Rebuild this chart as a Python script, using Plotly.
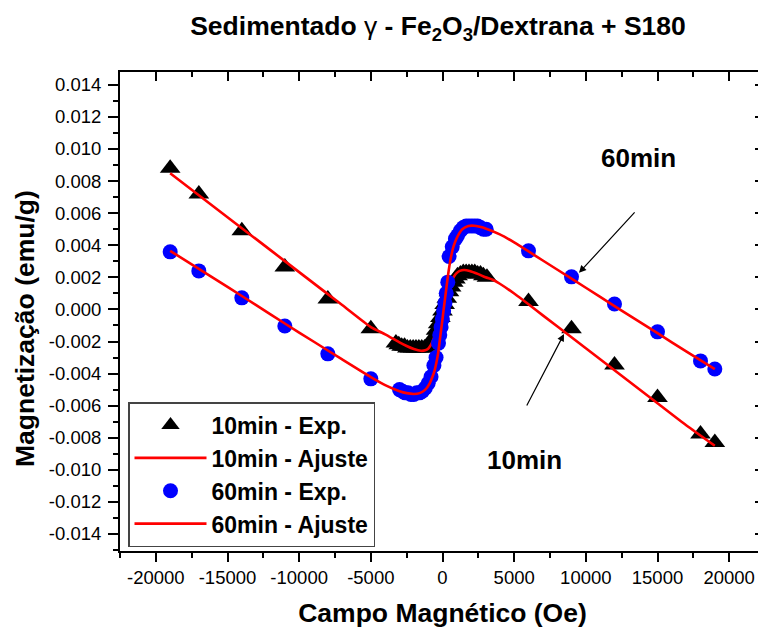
import plotly.graph_objects as go

# ---------------- data ----------------
# 10 min - experimental points (field in Oe, magnetization in emu/g)
field_10_exp = [-19000, -17000, -14000, -11000, -8000, -5000,
                -3250, -3050, -2850, -2650, -2450, -2250, -2050, -1850, -1650, -1450,
                -1250, -1050, -900, -750, -600, -450, -300, -150, 0, 150, 300, 450,
                600, 750, 900, 1050, 1250, 1450, 1650, 1850, 2050, 2250, 2450, 2650,
                2850, 3100,
                6000, 9000, 12000, 15000, 18000, 19000]
mag_10_exp = [0.0088, 0.0072, 0.0049, 0.00265, 0.00065, -0.0012,
              -0.0021, -0.0022, -0.0023, -0.0023, -0.0024, -0.0024, -0.0024, -0.0024, -0.0024, -0.0024,
              -0.0024, -0.0023, -0.0022, -0.0020, -0.0017, -0.0013, -0.0009, -0.0005, -0.0001, 0.0003, 0.0007, 0.0011,
              0.0014, 0.0017, 0.0019, 0.0021, 0.0022, 0.0023, 0.0023, 0.0023, 0.0023, 0.0023, 0.0022, 0.0022,
              0.0021, 0.0020,
              0.0005, -0.0012, -0.00346, -0.00549, -0.00776, -0.0083]

# 10 min - fitted curve
field_10_fit = [-19000, -17000, -15000, -13000, -11000, -9000, -7000, -5000, -4000, -3000,
                -2500, -2000, -1500, -1200, -1000, -800, -600, -400, -200, 0,
                200, 400, 600, 800, 1000, 1200, 1500, 1900, 2500, 3000,
                3500, 4000, 5000, 6000, 7000, 9000, 11000, 13000, 15000, 17000, 19000]
mag_10_fit = [0.00849, 0.00712, 0.00575, 0.00438, 0.00301, 0.00164, 0.00027, -0.00110, -0.00155, -0.00205,
              -0.00228, -0.00247, -0.00258, -0.00255, -0.00245, -0.00220, -0.00180, -0.00125, -0.00065, 0.0,
              0.00065, 0.00122, 0.00170, 0.00205, 0.00228, 0.00240, 0.00246, 0.00240, 0.00220, 0.00200,
              0.00185, 0.00160, 0.00099, 0.00032, -0.00037, -0.00174, -0.00311, -0.00448, -0.00585, -0.00722, -0.00850]

# 60 min - experimental points
field_60_exp = [-19000, -17000, -14000, -11000, -8000, -5000,
                -3000, -2800, -2600, -2400, -2200, -2000, -1800, -1600, -1400, -1200,
                -1000, -800, -600, -450, -280, -190, -100, -10, 80, 170, 260, 370,
                460, 680, 900, 1050, 1250, 1450, 1650, 1850, 2050, 2250, 2450, 2650,
                2850, 3050,
                6000, 9000, 12000, 15000, 18000, 19000]
mag_60_exp = [0.00359, 0.0024, 0.00072, -0.00103, -0.00277, -0.00433,
              -0.0050, -0.0051, -0.0052, -0.0052, -0.0053, -0.0053, -0.0052, -0.0052, -0.0051, -0.0049,
              -0.0046, -0.0042, -0.0035, -0.0030, -0.0021, -0.0016, -0.0011, -0.0006, -0.0001, 0.0004, 0.0010, 0.0017,
              0.0033, 0.0039, 0.0044, 0.0046, 0.0049, 0.0051, 0.0052, 0.0052, 0.0052, 0.0052, 0.0052, 0.0051,
              0.0050, 0.0050,
              0.00365, 0.00203, 0.00034, -0.0014, -0.00321, -0.00371]

# 60 min - fitted curve
field_60_fit = [-19000, -17000, -15000, -13000, -11000, -9000, -7000, -5000, -4000, -3000,
                -2500, -2000, -1600, -1200, -900, -700, -550, -400, -300, -200,
                -100, 0, 80, 180, 280, 380, 480, 580, 730, 880,
                1080, 1380, 1800, 2200, 2600, 3000, 4000, 5000, 6000, 7000,
                9000, 11000, 13000, 15000, 17000, 19000]
mag_60_fit = [0.00365, 0.00253, 0.00140, 0.00027, -0.00088, -0.00200, -0.00312, -0.00422, -0.00472, -0.00510,
              -0.00522, -0.00527, -0.00522, -0.00500, -0.00462, -0.00420, -0.00380, -0.00320, -0.00270, -0.00200,
              -0.00130, -0.00060, 0.0, 0.00070, 0.00140, 0.00210, 0.00270, 0.00320, 0.00380, 0.00420,
              0.00460, 0.00500, 0.00520, 0.00522, 0.00515, 0.00505, 0.00468, 0.00418, 0.00362, 0.00305,
              0.00192, 0.00078, -0.00036, -0.00148, -0.00262, -0.00372]

# axis ticks
x_ticks = [-20000, -15000, -10000, -5000, 0, 5000, 10000, 15000, 20000]
x_tick_labels = ["-20000", "-15000", "-10000", "-5000", "0", "5000", "10000", "15000", "20000"]
y_ticks = [-0.014, -0.012, -0.010, -0.008, -0.006, -0.004, -0.002, 0.0,
           0.002, 0.004, 0.006, 0.008, 0.010, 0.012, 0.014]
y_tick_labels = ["-0.014", "-0.012", "-0.010", "-0.008", "-0.006", "-0.004", "-0.002", "0.000",
                 "0.002", "0.004", "0.006", "0.008", "0.010", "0.012", "0.014"]

series_names = ["10min - Exp.", "10min - Ajuste", "60min - Exp.", "60min - Ajuste"]

# ---------------- figure ----------------
# the page body adds an 8 px offset, so the figure is 758x622 to fill the 766x630 window
W, H = 758, 622
FONT = "Liberation Sans, Arial, sans-serif"
X_RANGE = [-22500, 22500]
Y_RANGE = [-0.01506, 0.0148]

fig = go.Figure()
fig.add_trace(go.Scatter(x=field_10_exp, y=mag_10_exp, mode="markers", name=series_names[0],
                         marker=dict(symbol="triangle-up", size=18, color="black")))
fig.add_trace(go.Scatter(x=field_10_fit, y=mag_10_fit, mode="lines", name=series_names[1],
                         line=dict(color="#ff0000", width=2.6, shape="spline", smoothing=0.6)))
fig.add_trace(go.Scatter(x=field_60_exp, y=mag_60_exp, mode="markers", name=series_names[2],
                         marker=dict(symbol="circle", size=15, color="#0000ff")))
fig.add_trace(go.Scatter(x=field_60_fit, y=mag_60_fit, mode="lines", name=series_names[3],
                         line=dict(color="#ff0000", width=2.6, shape="spline", smoothing=0.6)))
# empty trace to activate the mirrored (top/right) tick axes
fig.add_trace(go.Scatter(x=[], y=[], xaxis="x2", yaxis="y2", showlegend=False, hoverinfo="skip"))

axis_common = dict(showgrid=False, zeroline=False, color="black", tickwidth=2, tickcolor="black",
                   automargin=False)

fig.update_layout(
    template="none",
    width=W, height=H,
    margin=dict(l=112, r=1, t=64, b=79),
    paper_bgcolor="white", plot_bgcolor="white",
    font=dict(family=FONT, color="black"),
    title=dict(
        text="<b>Sedimentado </b>γ<b> - Fe<sub>2</sub>O<sub>3</sub>/Dextrana + S180</b>",
        font=dict(size=26.5, family=FONT, color="black"),
        x=430 / W, xanchor="center", xref="container",
        y=1 - 18 / H, yanchor="middle", yref="container", automargin=False),
    xaxis=dict(range=X_RANGE, tickmode="array", tickvals=x_ticks, ticktext=x_tick_labels,
               ticks="outside", ticklen=9, showline=True, linewidth=2, linecolor="black", mirror=True,
               tickfont=dict(size=18.5, family=FONT),
               minor=dict(tickmode="linear", tick0=0, dtick=2500, ticks="outside", ticklen=5,
                          tickwidth=2, tickcolor="black"),
               title=dict(text="<b>Campo Magnético (Oe)</b>", font=dict(size=26.5, family=FONT),
                          standoff=16),
               **axis_common),
    yaxis=dict(range=Y_RANGE, tickmode="array", tickvals=y_ticks, ticktext=y_tick_labels,
               ticks="outside", ticklen=10, showline=True, linewidth=2, linecolor="black", mirror=True,
               tickfont=dict(size=18.5, family=FONT), ticklabelstandoff=3,
               minor=dict(tickmode="linear", tick0=0, dtick=0.001, ticks="outside", ticklen=5,
                          tickwidth=2, tickcolor="black"),
               **axis_common),
    xaxis2=dict(range=X_RANGE, overlaying="x", side="top", anchor="y", tickmode="array",
                tickvals=x_ticks, ticks="inside", ticklen=9, showticklabels=False, showline=False,
                minor=dict(tickmode="linear", tick0=0, dtick=2500, ticks="inside", ticklen=5,
                           tickwidth=2, tickcolor="black"),
                **axis_common),
    yaxis2=dict(range=Y_RANGE, overlaying="y", side="right", anchor="x", tickmode="array",
                tickvals=y_ticks, ticks="inside", ticklen=10, showticklabels=False, showline=False,
                minor=dict(tickmode="linear", tick0=0, dtick=0.001, ticks="inside", ticklen=5,
                           tickwidth=2, tickcolor="black"),
                **axis_common),
    legend=dict(x=(120 - 112) / 645, y=(543 - 394) / 479, xanchor="left", yanchor="top",
                bgcolor="white", bordercolor="#444444", borderwidth=1.5,
                font=dict(size=23, family=FONT, weight="bold", color="black"),
                itemwidth=72, tracegroupgap=0),
    showlegend=True,
)

# y-axis title (placed slightly below the axis centre, as in the reference)
fig.add_annotation(xref="paper", yref="paper", x=(17 - 112) / 645, y=(543 - 320) / 479,
                   text="<b>Magnetização (emu/g)</b>", textangle=-90, showarrow=False,
                   xanchor="center", yanchor="middle",
                   font=dict(size=26.5, family=FONT, color="black"))

# labels and arrows
fig.add_annotation(x=13670, y=0.00945, text="<b>60min</b>", showarrow=False,
                   font=dict(size=26, family=FONT, color="black"))
fig.add_annotation(x=5686, y=-0.00939, text="<b>10min</b>", showarrow=False,
                   font=dict(size=26, family=FONT, color="black"))
fig.add_annotation(x=9523, y=0.00228, ax=13500, ay=0.00614, axref="x", ayref="y",
                   text="", showarrow=True, arrowhead=2, arrowsize=1.2, arrowwidth=1.2,
                   arrowcolor="black")
fig.add_annotation(x=8477, y=-0.00153, ax=5826, ay=-0.00608, axref="x", ayref="y",
                   text="", showarrow=True, arrowhead=2, arrowsize=1.2, arrowwidth=1.2,
                   arrowcolor="black")

fig.write_html("out.html")
